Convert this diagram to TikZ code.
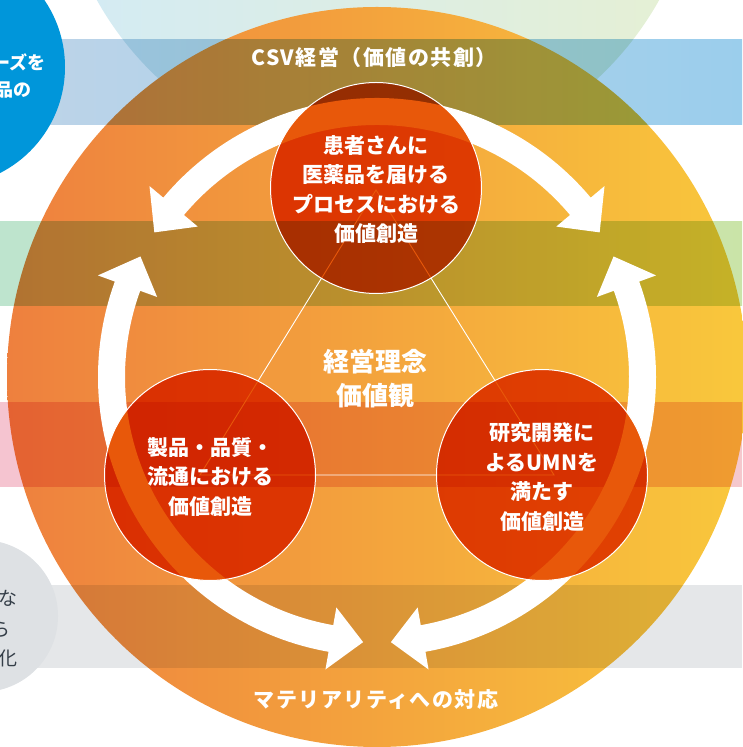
\documentclass[tikz,border=0pt]{standalone}
\usepackage{fontspec}
\newfontfamily\jp{Noto Sans CJK JP}
\definecolor{orL}{RGB}{238,128,62}
\definecolor{orR}{RGB}{249,200,60}
\definecolor{lbL}{RGB}{211,235,245}
\definecolor{lbR}{RGB}{230,240,211}
\definecolor{bbL}{RGB}{190,212,232}
\definecolor{bbR}{RGB}{155,206,236}
\definecolor{gbL}{RGB}{190,228,206}
\definecolor{gbR}{RGB}{202,228,168}
\definecolor{pbL}{RGB}{245,196,208}
\definecolor{pbR}{RGB}{245,200,205}
\definecolor{gyb}{RGB}{229,231,233}
\definecolor{bluec}{RGB}{0,150,218}
\definecolor{grayc}{RGB}{222,225,228}
\definecolor{redc}{RGB}{232,88,10}
\definecolor{darktxt}{RGB}{52,62,72}
\newcommand\ringarrow[1]{%
  \fill[white,shift={(377,370)}]
  ({#1-50}:279) arc[start angle={#1-50}, end angle={#1+50}, radius=279]
  -- ({#1+50}:297) -- ({#1+57}:265.5) -- ({#1+50}:234) -- ({#1+50}:252)
  arc[start angle={#1+50}, end angle={#1-50}, radius=252]
  -- ({#1-50}:234) -- ({#1-57}:265.5) -- ({#1-50}:297) -- cycle;}
\begin{document}
\begin{tikzpicture}[x=1pt,y=1pt,
  redtxt/.style={text=white, align=center, inner sep=0pt, font=\jp\bfseries\fontsize{21}{29.5}\selectfont},
  midtxt/.style={text=white, align=center, inner sep=0pt, font=\jp\bfseries\fontsize{26}{33.5}\selectfont},
  ringtxt/.style={text=white, inner sep=0pt, font=\jp\bfseries\fontsize{21}{24}\selectfont\addfontfeatures{LetterSpace=7}},
  bluetxt/.style={text=white, inner sep=0pt, anchor=east, font=\jp\bfseries\fontsize{18}{20}\selectfont},
  graytxt/.style={text=darktxt, inner sep=0pt, anchor=east, font=\jp\fontsize{19}{20}\selectfont},
  redcirc/.style={fill=redc},
  rim/.style={draw=white, line width=1pt},
  triline/.style={draw=white, line width=0.9pt}]
\useasboundingbox (0,0) rectangle (742,747);
% light blue circle behind
\shade[left color=lbL, right color=lbR] (378,904) circle[radius=322];
% big circle
\shade[left color=orL, right color=orR] (377,370) circle[radius=370];
% bands (multiply)
\begin{scope}[blend mode=multiply]
  \shade[left color=bbL, right color=bbR] (0,622) rectangle (742,707);
  \shade[left color=gbL, right color=gbR] (0,441) rectangle (742,525);
  \shade[left color=pbL, right color=pbR] (0,260) rectangle (742,344);
  \fill[gyb] (0,79) rectangle (742,162);
\end{scope}
% side circles
\fill[bluec] (-54,680) circle[radius=119];
\fill[grayc] (-18,131) circle[radius=76];
\node[bluetxt] (b1) at (46,685) {ーズを};
\node[bluetxt] (b2) at (32,657) {品の};
\node[graytxt] (g1) at (18,149) {な};
\node[graytxt] (g2) at (11,117) {ら};
\node[graytxt] (g3) at (18,89) {化};
% white ring arrows
\ringarrow{90}
\ringarrow{210}
\ringarrow{330}
% triangle
\coordinate (tA) at (376,557);
\coordinate (tB) at (200,272);
\coordinate (tC) at (554,272);
\draw[triline] (tA) -- (tB) -- (tC) -- cycle;
% red circles (multiply)
\begin{scope}[blend mode=multiply]
  \fill[redcirc] (376,559) circle[radius=105.5];
  \fill[redcirc] (210,272) circle[radius=105.5];
  \fill[redcirc] (542,272) circle[radius=105.5];
\end{scope}
\draw[rim] (376,559) circle[radius=105.5];
\draw[rim] (210,272) circle[radius=105.5];
\draw[rim] (542,272) circle[radius=105.5];
% texts
\node[ringtxt] (csv) at (374,689) {CSV経営（価値の共創）};
\node[ringtxt] (mat) at (376,47) {マテリアリティへの対応};
\node[midtxt] (mid) at (375,368.5) {経営理念\\価値観};
\node[redtxt] (ntop) at (376,557.5) {患者さんに\\医薬品を届ける\\プロセスにおける\\価値創造};
\node[redtxt] (nleft) at (210,270) {製品・品質・\\流通における\\価値創造};
\node[redtxt] (nright) at (542,270) {研究開発に\\よるUMNを\\満たす\\価値創造};
\end{tikzpicture}
\end{document}
